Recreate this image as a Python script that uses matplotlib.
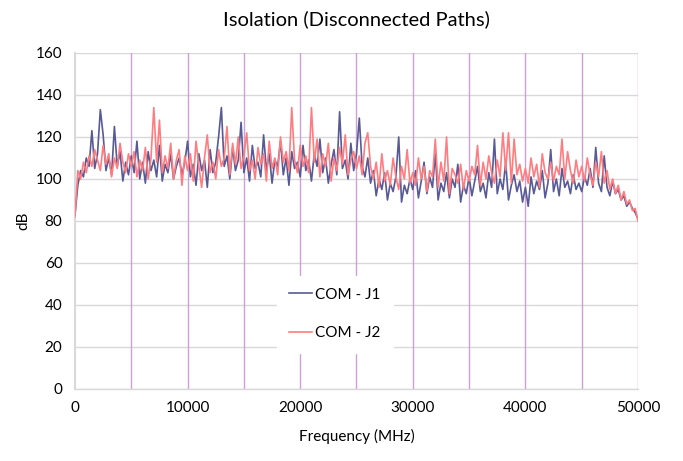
import numpy as np
import matplotlib.pyplot as plt

plt.rcParams['font.family'] = ['Lato', 'DejaVu Sans']

# frequency axis, 250 MHz step
freq_step = 250
freq = np.arange(0, 50001, freq_step)

# COM - J1 (dB)
j1 = [
    83, 97, 104, 101, 110, 106, 123, 105, 112, 133, 121, 104, 110, 102, 125, 106, 113, 99, 108, 102,
    111, 103, 118, 100, 108, 98, 113, 104, 109, 101, 116, 99, 107, 103, 112, 100, 106, 110, 102, 108,
    118, 101, 107, 97, 112, 104, 109, 96, 114, 103, 108, 120, 134, 106, 111, 100, 115, 104, 109, 127,
    103, 110, 99, 116, 105, 108, 101, 121, 104, 112, 98, 109, 106, 118, 102, 110, 97, 113, 105, 108,
    101, 116, 104, 109, 99, 112, 106, 119, 103, 110, 98, 107, 114, 102, 132, 105, 109, 100, 117, 104,
    112, 129, 106, 101, 110, 98, 104, 92, 100, 95, 103, 90, 98, 94, 101, 120, 89, 97, 93, 100,
    95, 104, 91, 99, 108, 93, 101, 96, 112, 90, 98, 94, 103, 91, 100, 96, 107, 89, 97, 93,
    101, 92, 99, 106, 94, 98, 91, 103, 96, 119, 93, 100, 95, 108, 90, 97, 102, 94, 99, 89,
    96, 87, 101, 93, 99, 95, 104, 91, 98, 114, 94, 100, 92, 105, 96, 99, 93, 102, 95, 98,
    94, 101, 97, 105, 96, 115, 98, 94, 111, 96, 92, 99, 93, 95, 90, 92, 87, 89, 86, 84,
    81,
]

# COM - J2 (dB)
j2 = [
    82, 104, 100, 108, 103, 111, 106, 114, 109, 104, 116, 107, 112, 101, 110, 105, 117, 108, 103, 112,
    106, 113, 101, 109, 104, 115, 100, 110, 134, 108, 128, 103, 111, 105, 117, 100, 109, 114, 97, 111,
    104, 112, 99, 118, 106, 96, 110, 121, 103, 108, 100, 114, 106, 110, 125, 102, 117, 107, 120, 105,
    111, 122, 104, 109, 100, 115, 107, 112, 99, 118, 105, 110, 102, 120, 108, 113, 104, 134, 109, 103,
    116, 106, 111, 103, 134, 108, 119, 101, 112, 106, 117, 99, 110, 104, 115, 107, 121, 102, 109, 113,
    105, 111, 102, 117, 122, 106, 100, 108, 96, 112, 99, 104, 97, 110, 101, 95, 106, 100, 114, 98,
    103, 97, 110, 100, 106, 94, 104, 101, 119, 96, 108, 99, 120, 93, 105, 102, 98, 107, 95, 104,
    99, 106, 102, 116, 97, 108, 100, 111, 103, 98, 109, 101, 122, 104, 122, 98, 119, 102, 107, 99,
    105, 98, 110, 101, 107, 96, 112, 103, 100, 108, 99, 106, 102, 119, 100, 113, 104, 98, 109, 101,
    106, 99, 110, 102, 97, 108, 101, 113, 98, 104, 95, 100, 93, 97, 90, 94, 88, 90, 85, 86,
    80,
]

vlines = np.arange(5000, 50001, 5000)

fig = plt.figure(figsize=(6.83, 4.61), dpi=100)
ax = fig.add_axes([0.1098, 0.1562, 0.8243, 0.7289])

ax.set_xlim(0, 50000)
ax.set_ylim(0, 160)
ax.set_yticks(np.arange(0, 161, 20))
ax.set_xticks(np.arange(0, 50001, 10000))
ax.yaxis.grid(True, color='#d9d9d9', lw=1)
ax.set_axisbelow(True)
for v in vlines:
    ax.axvline(v, color='#cc9fd6', lw=1, zorder=1)

ax.plot(freq, j1, color='#575a96', lw=1.2, label='COM - J1', zorder=3)
ax.plot(freq, j2, color='#ff7c80', lw=1.2, label='COM - J2', zorder=3)

for s in ['top', 'right']:
    ax.spines[s].set_visible(False)
ax.spines['left'].set_color('#d9d9d9')
ax.spines['left'].set_linewidth(1.5)
ax.spines['bottom'].set_color('#d9d9d9')
ax.spines['bottom'].set_linewidth(1)
ax.tick_params(length=0, labelsize=11, pad=9, colors='#000000')

ax.set_title('Isolation (Disconnected Paths)', fontsize=14.5, pad=20)
ax.set_xlabel('Frequency (MHz)', fontsize=11, labelpad=10)
ax.set_ylabel('dB', fontsize=11, labelpad=4)

leg = ax.legend(loc='center', bbox_to_anchor=(0.462, 0.223), frameon=True,
                fontsize=11, labelspacing=1.6, handlelength=1.5, handletextpad=0.2,
                borderpad=0.8, fancybox=False)
leg.get_frame().set_edgecolor('white')
leg.get_frame().set_facecolor('white')
leg.get_frame().set_alpha(1)
leg.set_zorder(5)

fig.savefig('out.png', dpi=100)
